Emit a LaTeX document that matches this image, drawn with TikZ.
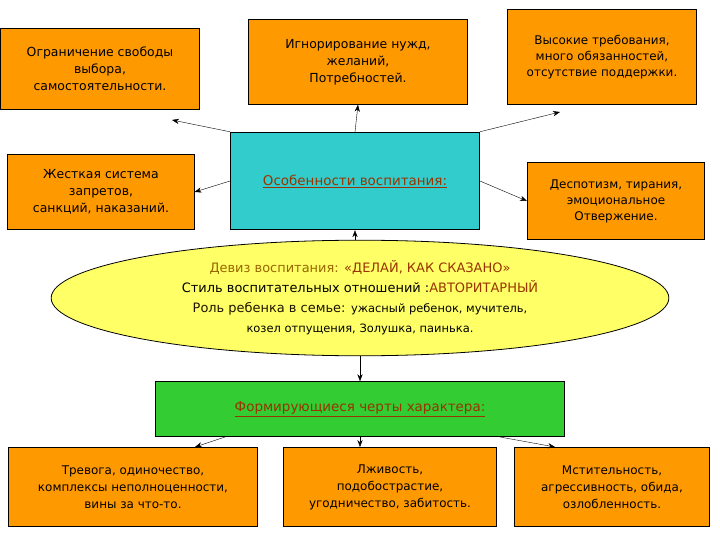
\documentclass[tikz,border=0pt]{standalone}
\usepackage{fontspec}
\setmainfont{DejaVu Sans}
\usetikzlibrary{shapes.geometric,arrows.meta}
\definecolor{org}{HTML}{FF9900}
\definecolor{tl}{HTML}{33CCCC}
\definecolor{yl}{HTML}{FFFF66}
\definecolor{gr}{HTML}{33CC33}
\definecolor{mr}{HTML}{993300}
\definecolor{ol}{HTML}{996600}
\begin{document}
\begin{tikzpicture}[x=1bp,y=-1bp,
  box/.style={draw=black,thick,fill=org,align=center,font=\fontsize{12.5}{17}\selectfont,inner sep=0pt},
  arr/.style={-{Stealth[length=7pt]},thin}]
\useasboundingbox (0,0) rectangle (720,540);
\node[box,minimum width=200,minimum height=82] (a) at (100,69) {Ограничение свободы\\выбора,\\самостоятельности.};
\node[box,minimum width=220,minimum height=85] (b) at (358,62) {Игнорирование нужд,\\желаний,\\Потребностей.};
\node[box,minimum width=189,minimum height=95,font=\fontsize{12}{16}\selectfont] (c) at (602,57) {Высокие требования,\\много обязанностей,\\отсутствие поддержки.};
\node[box,minimum width=187,minimum height=75] (d) at (101,192) {Жесткая система\\запретов,\\санкций, наказаний.};
\node[box,fill=tl,minimum width=250,minimum height=98,text=mr,font=\fontsize{13.5}{17}\selectfont] (m) at (355,181) {\underline{Особенности воспитания:}};
\node[box,minimum width=178,minimum height=78,font=\fontsize{12}{16}\selectfont] (e) at (616,201) {Деспотизм, тирания,\\эмоциональное\\Отвержение.};
\node[draw=black,thick,fill=yl,ellipse,minimum width=620,minimum height=116,align=center,inner sep=0pt] (el) at (360,298) {};
\node[align=center,font=\fontsize{13}{20}\selectfont] (t) at (360,298) {{\color{ol}Девиз воспитания:} {\color{mr}«ДЕЛАЙ, КАК СКАЗАНО»}\\
Стиль воспитательных отношений :{\color{mr}АВТОРИТАРНЫЙ}\\
{\color{black!80!ol}Роль ребенка в семье:} {\fontsize{11.5}{20}\selectfont ужасный ребенок, мучитель,}\\
{\fontsize{11.5}{20}\selectfont козел отпущения, Золушка, паинька.}};
\node[box,fill=gr,minimum width=410,minimum height=55,text=mr,font=\fontsize{13.5}{17}\selectfont] (g) at (360,409) {\underline{Формирующиеся черты характера:}};
\node[box,minimum width=250,minimum height=80,font=\fontsize{12}{17}\selectfont] (p) at (133,487) {Тревога, одиночество,\\комплексы неполноценности,\\вины за что-то.};
\node[box,minimum width=214,minimum height=80,font=\fontsize{12}{17}\selectfont] (q) at (390,487) {Лживость,\\подобострастие,\\угодничество, забитость.};
\node[box,minimum width=195,minimum height=80,font=\fontsize{12}{17}\selectfont] (r) at (612,487) {Мстительность,\\агрессивность, обида,\\озлобленность.};
\draw[arr] (m.north) -- (b.south);
\draw[arr] (m.north west) -- (172,120);
\draw[arr] (m.north east) -- (560,112);
\draw[arr] (m.west) -- (d.east);
\draw[arr] (m.east) -- (e.west);
\draw[arr] (el.north -| m.south) -- (m.south);
\draw[arr] (el.south -| g.north) -- (g.north);
\draw[arr] (225,437) -- (195,447);
\draw[arr] (g.south) -- (360,447);
\draw[arr] (500,437) -- (555,447);
\end{tikzpicture}
\end{document}
